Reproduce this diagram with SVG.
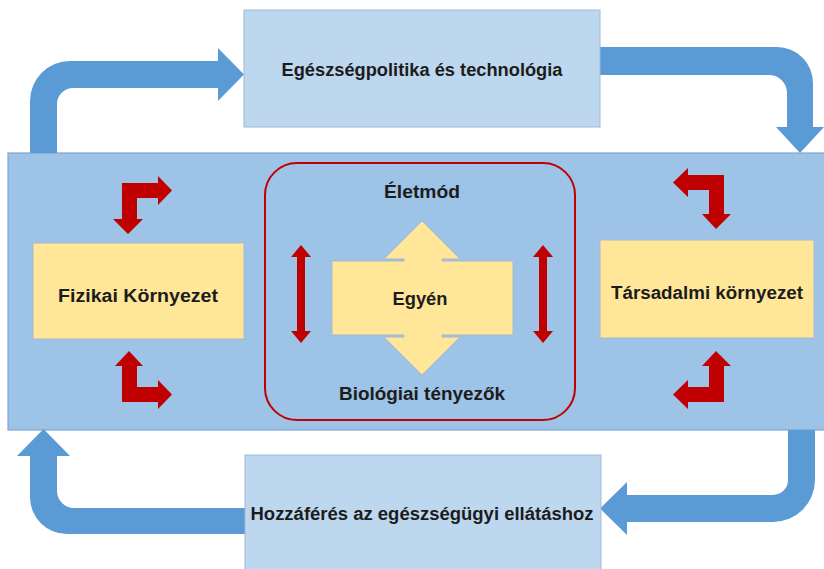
<svg xmlns="http://www.w3.org/2000/svg" width="824" height="569" viewBox="0 0 824 569">
  <style>
    .lbl { font-family: "Liberation Sans", Arial, sans-serif; font-weight: bold; font-size: 17.5px; fill: #1c1c1c; text-anchor: middle; }
    .band { fill: #9DC3E6; stroke: #7EA6CF; stroke-width: 1.2; }
    .policy { fill: #BDD7EE; stroke: #9DBAD9; stroke-width: 1; }
    .factor { fill: #FFE699; stroke: #A9B9C9; stroke-width: 1; }
    .flow { fill: #5B9BD5; }
    .link { fill: #C00000; }
  </style>

  <!-- wide band holding the environment factors -->
  <g id="environment">
    <rect class="band" x="8" y="153" width="830" height="277"/>
  </g>

  <!-- outer cycle of blue bent arrows -->
  <g id="connectors">
    <path class="flow" d="M30,153 L30,101 A40,40 0 0 1 70,61 L218,61 L218,48 L244,74.5 L218,101 L218,88 L73,88 A16,16 0 0 0 57,104 L57,153 Z"/>
    <path class="flow" d="M600,47 L777,47 A36,36 0 0 1 813,83 L813,127 L824,127 L800,153 L776,127 L787,127 L787,93 A18,18 0 0 0 769,75 L600,75 Z"/>
    <path class="flow" d="M788,430 L815,430 L815,480 A42,42 0 0 1 773,522 L627,522 L627,535 L600,508.5 L627,482 L627,495 L773,495 A15,15 0 0 0 788,480 Z"/>
    <path class="flow" d="M245,508 L74,508 A17,17 0 0 1 57,491 L57,456 L70,456 L43.5,429 L17,456 L30,456 L30,497 A37,37 0 0 0 67,534 L245,534 Z"/>

    <!-- red bent arrows around the environment boxes -->
    <path class="link" d="M128,234 L143,219 L137,219 L137,198 L158,198 L158,205 L172,190.5 L158,176 L158,183 L122,183 L122,219 L113,219 Z"/>
    <path class="link" d="M129,351 L143,366 L137,366 L137,387 L158,387 L158,380 L172,394.5 L158,409 L158,402 L122,402 L122,366 L115,366 Z"/>
    <path class="link" d="M716,229 L731,214 L724,214 L724,175 L688,175 L688,168 L673,182.5 L688,197 L688,190 L709,190 L709,214 L702,214 Z"/>
    <path class="link" d="M716,351 L731,366 L724,366 L724,402 L688,402 L688,409 L673,394.5 L688,380 L688,387 L709,387 L709,366 L702,366 Z"/>

    <!-- vertical double arrows inside the lifestyle frame -->
    <path class="link" d="M301,245 L311,257 L305,257 L305,331 L311,331 L301,343 L291,331 L297,331 L297,257 L291,257 Z"/>
    <path class="link" d="M543,245 L553,257 L547,257 L547,331 L553,331 L543,343 L533,331 L539,331 L539,257 L533,257 Z"/>
  </g>

  <g id="policy">
    <rect class="policy" x="244" y="10" width="356" height="117"/>
    <text class="lbl" x="422" y="76" textLength="281" lengthAdjust="spacingAndGlyphs">Egészségpolitika és technológia</text>
  </g>

  <g id="access">
    <rect class="policy" x="245" y="455" width="356" height="125"/>
    <text class="lbl" x="422" y="520" textLength="343" lengthAdjust="spacingAndGlyphs">Hozzáférés az egészségügyi ellátáshoz</text>
  </g>

  <g id="physical">
    <rect class="factor" x="33" y="243" width="211" height="96"/>
    <text class="lbl" x="138" y="302" textLength="160" lengthAdjust="spacingAndGlyphs">Fizikai Környezet</text>
  </g>

  <g id="social">
    <rect class="factor" x="600" y="240" width="214" height="98"/>
    <text class="lbl" x="707" y="299" textLength="192" lengthAdjust="spacingAndGlyphs">Társadalmi környezet</text>
  </g>

  <g id="lifestyle">
    <rect x="265" y="163" width="310" height="257" rx="32" ry="32" fill="none" stroke="#C00000" stroke-width="2"/>
    <text class="lbl" x="422" y="198" textLength="76" lengthAdjust="spacingAndGlyphs">Életmód</text>
    <text class="lbl" x="422" y="400" textLength="166" lengthAdjust="spacingAndGlyphs">Biológiai tényezők</text>
  </g>

  <g id="individual">
    <path class="factor" d="M332,261 L404,261 L404,259 L384,259 L422,221 L460,259 L442,259 L442,261 L513,261 L513,335 L442,335 L442,337 L460,337 L422,375 L384,337 L404,337 L404,335 L332,335 Z"/>
    <text class="lbl" x="420" y="305" textLength="55" lengthAdjust="spacingAndGlyphs">Egyén</text>
  </g>
</svg>
